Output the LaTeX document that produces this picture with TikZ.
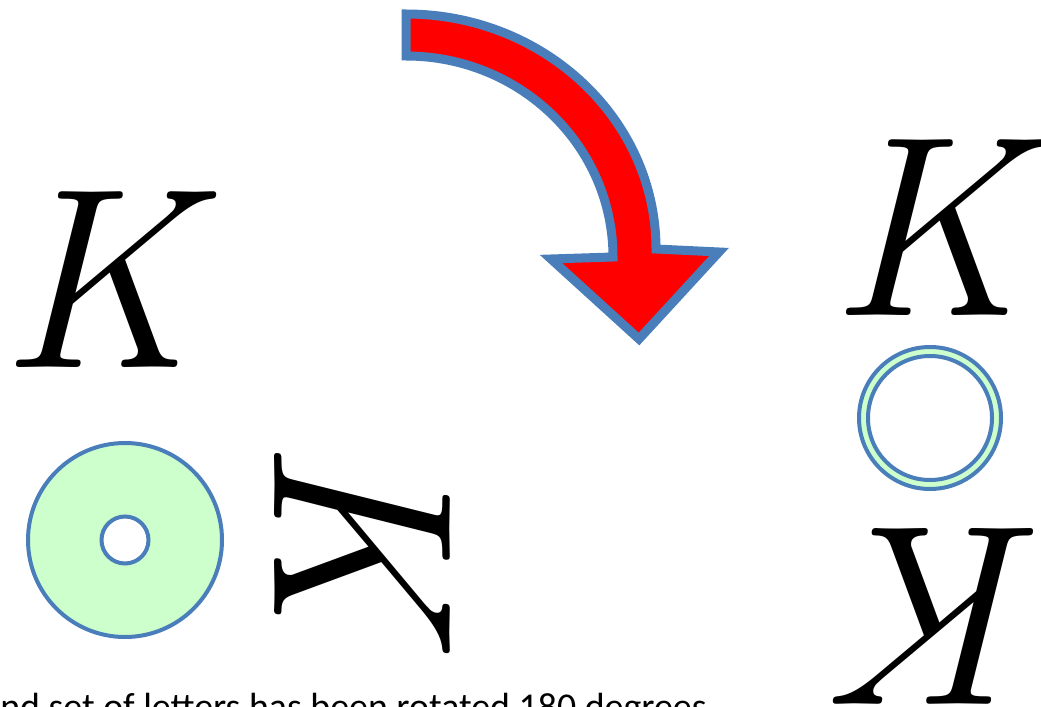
\documentclass[tikz,border=0pt]{standalone}
\usepackage{fontspec}
\newfontfamily\notefont{Carlito}
\definecolor{arrowred}{HTML}{FF0000}
\definecolor{edgeblue}{HTML}{4A7EBB}
\definecolor{ringgreen}{HTML}{CCFFCC}

\begin{document}
\begin{tikzpicture}[x=.75pt,y=.75pt,
  letter/.style={inner sep=0pt,text=black,
                 font=\itshape\fontsize{193}{193}\selectfont},
  ringline/.style={circle,draw=edgeblue,line width=3pt,inner sep=0pt},
  outerring/.style={ringline,fill=ringgreen},
  innerring/.style={ringline,fill=white},
  turnarrow/.style={draw=edgeblue,fill=arrowred,line width=6.75pt,line join=miter},
  note/.style={inner sep=0pt,font=\notefont\fontsize{28.4}{33}\selectfont}
]
% 1 unit = 1 px of the 1041 x 706 frame
\path[use as bounding box] (0,0) rectangle (1041,-706);

% original letter and disc
\node[letter] (origK) at (96,-280) {K};
\node[outerring,minimum size=145.5pt] (origRing) at (125,-540) {};
\node[innerring,minimum size=35.25pt] (origHole) at (origRing.center) {};
\node[letter,rotate=-90] (turnK) at (362,-533) {K};

% turning arrow
\draw[turnarrow] (406,-14) arc[start angle=90,end angle=0,x radius=250,y radius=235]
  -- (719,-252) -- (639,-339) -- (551,-259) -- (613,-257)
  arc[start angle=0,end angle=90,x radius=207,y radius=201] -- cycle;

% result
\node[letter] (newK) at (926,-228) {K};
\node[outerring,minimum size=106.5pt] (newRing) at (930,-418) {};
\node[innerring,minimum size=93pt] (newHole) at (newRing.center) {};
\node[letter,rotate=180] (flipK) at (954,-616) {K};

\node[note,anchor=base west] (note) at (0,-719) {nd set of letters has been rotated 180 degrees};
\end{tikzpicture}
\end{document}
